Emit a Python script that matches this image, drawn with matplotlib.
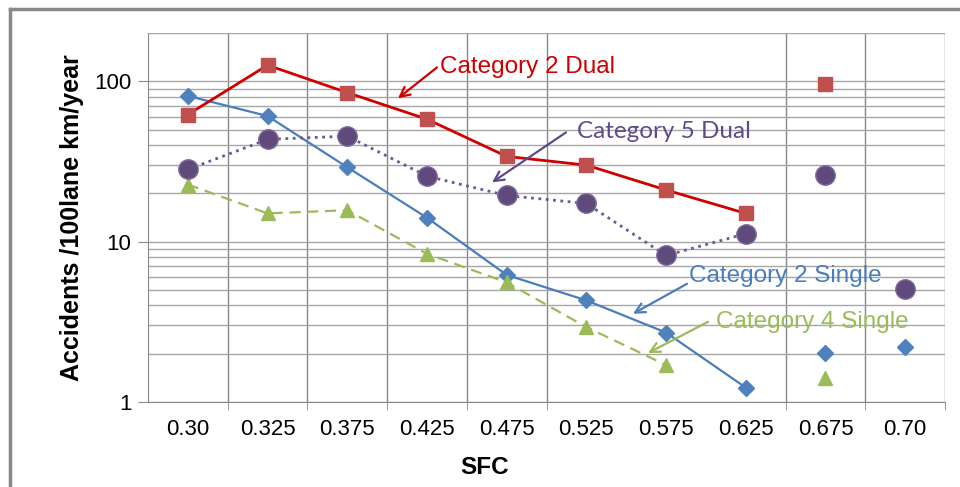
import numpy as np
import matplotlib
matplotlib.use('Agg')
import matplotlib.pyplot as plt
from matplotlib.lines import Line2D

plt.rcParams['font.family'] = ['Liberation Sans', 'DejaVu Sans']

# SFC categories
sfc = ['0.30', '0.325', '0.375', '0.425', '0.475', '0.525', '0.575', '0.625', '0.675', '0.70']

# accidents / 100 lane km / year (None = no point)
cat2_dual = [62, 126, 85, 58, 34, 30, 21, 15]
cat2_dual_extra = [96, None]
cat5_dual = [28.2, 43.4, 45.5, 25.6, 19.4, 17.3, 8.2, 11.2]
cat5_dual_extra = [26.2, 5.06]
cat2_single = [81, 60.7, 29.1, 14.1, 6.2, 4.3, 2.71, 1.23]
cat2_single_extra = [2.01, 2.2]
cat4_single = [22.7, 15, 15.7, 8.4, 5.57, 2.93, 1.70]
cat4_single_extra = [1.41, None]

W, H = 960, 487
fig = plt.figure(figsize=(W / 100, H / 100), dpi=100)
ax = fig.add_axes([148 / W, 1 - 402 / H, (945 - 148) / W, (402 - 33) / H])

x = np.arange(len(sfc))


def extra(vals):
  xs = [8 + i for i, v in enumerate(vals) if v is not None]
  ys = [v for v in vals if v is not None]
  return xs, ys


#Category 2 Single (blue)
ax.plot(x[:len(cat2_single)], cat2_single, '-', color='#4A7EBB', lw=1.6, zorder=3)
ax.plot(x[:len(cat2_single)], cat2_single, 'D', color='#4F81BD', ms=8, zorder=4)
ax.plot(*extra(cat2_single_extra), 'D', color='#4F81BD', ms=8, zorder=4)

#Category 4 Single (green)
ax.plot(x[:len(cat4_single)], cat4_single, '--', color='#9BBB59', lw=1.6, dashes=(5, 3), zorder=3)
ax.plot(x[:len(cat4_single)], cat4_single, '^', color='#9BBB59', ms=10, zorder=4)
ax.plot(*extra(cat4_single_extra), '^', color='#9BBB59', ms=10, zorder=4)

#Category 5 Dual (purple)
ax.plot(x[:len(cat5_dual)], cat5_dual, ':', color='#6B5A92', lw=2, zorder=3)
ax.plot(x[:len(cat5_dual)], cat5_dual, 'o', color='#604A7B', ms=14, mec='#7E6A9E', mew=1, zorder=4)
ax.plot(*extra(cat5_dual_extra), 'o', color='#604A7B', ms=14, mec='#7E6A9E', mew=1, zorder=4)

#Category 2 Dual (red)
ax.plot(x[:len(cat2_dual)], cat2_dual, '-', color='#D00000', lw=2, zorder=3)
ax.plot(x[:len(cat2_dual)], cat2_dual, 's', color='#C0504D', ms=9.5, zorder=4)
ax.plot(*extra(cat2_dual_extra), 's', color='#C0504D', ms=9.5, zorder=4)

ax.set_yscale('log')
ax.set_ylim(1, 200)
ax.set_xlim(-0.5, len(sfc) - 0.5)
ax.set_yticks([1, 10, 100])
ax.set_yticklabels(['1', '10', '100'])
ax.yaxis.set_minor_locator(matplotlib.ticker.LogLocator(base=10, subs=np.arange(2, 10)))
ax.yaxis.set_minor_formatter(matplotlib.ticker.NullFormatter())
ax.tick_params(axis='y', which='minor', length=0)
ax.tick_params(axis='y', which='major', length=7, color='#888888', labelsize=16, pad=5)
ax.grid(True, axis='y', which='both', color='#A6A6A6', lw=1)

ax.set_xticks(x)
ax.set_xticklabels(sfc)
ax.tick_params(axis='x', which='major', length=0, labelsize=16, pad=12)
bounds = [0.5, 1.5, 2.5, 3.5, 4.5, 7.5, 8.5, 9.5]
ax.set_xticks(bounds, minor=True)
ax.tick_params(axis='x', which='minor', length=6, color='#888888')
ax.grid(True, axis='x', which='minor', color='#888888', lw=1)
ax.set_axisbelow(True)

for s in ['top', 'right']:
  ax.spines[s].set_visible(False)
for s in ['left', 'bottom']:
  ax.spines[s].set_color('#888888')

fig.text(72 / W, 1 - 218 / H, 'Accidents /100lane km/year', rotation=90, fontsize=18,
         fontweight='bold', ha='center', va='center')
fig.text(485 / W, 1 - 468 / H, 'SFC', fontsize=17.5, fontweight='bold', ha='center', va='center')

# annotations
arrow = dict(arrowstyle='->,head_length=0.7,head_width=0.35', lw=1.6, shrinkA=0, shrinkB=0)
ax.annotate('', xy=(2.637, 78.3), xytext=(3.126, 122), arrowprops=dict(arrow, color='#CC0000'))
ax.text(3.17, 122, 'Category 2 Dual', color='#CC0000', fontsize=17.5, ha='left', va='center')

ax.annotate('', xy=(3.816, 23.4), xytext=(4.745, 48.0), arrowprops=dict(arrow, color='#5F4B8B'))
ax.text(4.883, 48.7, 'Category 5 Dual', color='#5F4B8B', fontsize=17.5, ha='left', va='center',
        family=['Lato', 'DejaVu Sans'])

ax.annotate('', xy=(5.585, 3.55), xytext=(6.263, 5.46), arrowprops=dict(arrow, color='#4A7EBB'))
ax.text(6.288, 6.13, 'Category 2 Single', color='#4A7EBB', fontsize=17.5, ha='left', va='center')

ax.annotate('', xy=(5.773, 2.02), xytext=(6.526, 3.16), arrowprops=dict(arrow, color='#9BBB59'))
ax.text(6.627, 3.16, 'Category 4 Single', color='#9BBB59', fontsize=17.5, ha='left', va='center')

# outer frame (left and top edges visible)
fig.add_artist(Line2D([9.5 / W, 9.5 / W], [0, 1 - 9 / H], color='#888888', lw=2.5))
fig.add_artist(Line2D([9.5 / W, 1], [1 - 9 / H, 1 - 9 / H], color='#888888', lw=2.5))

fig.savefig('out.png', dpi=100)
